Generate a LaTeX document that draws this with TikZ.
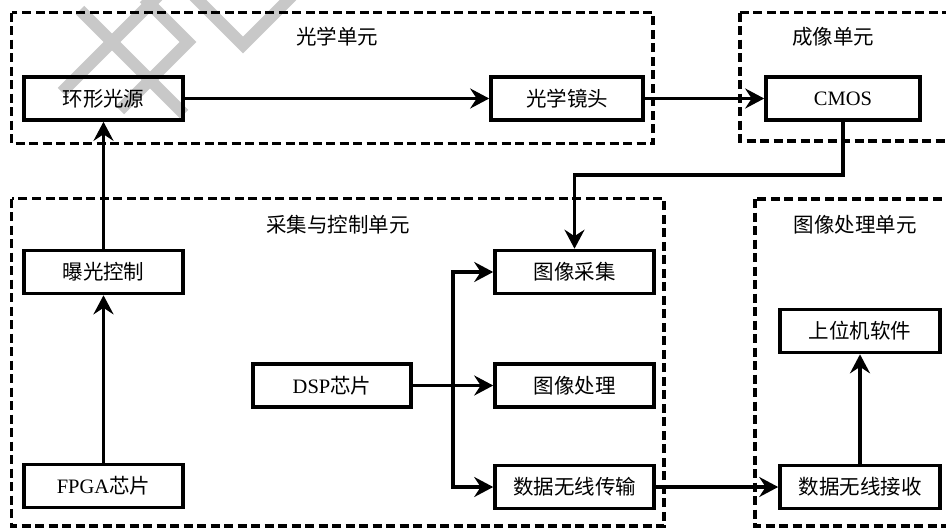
\documentclass[tikz,border=0pt]{standalone}
\usepackage{fontspec}
\setmainfont{Liberation Serif}
\newfontfamily\cjk{Noto Sans CJK SC}
\usetikzlibrary{arrows.meta}
\definecolor{wmgray}{RGB}{200,200,200}
\tikzset{
  blk/.style={draw=black, line width=3.6pt, minimum height=43pt, inner sep=0pt,
    font=\fontsize{20.5}{24}\selectfont},
  unit/.style={draw=black, line width=3.2pt, dash pattern=on 9pt off 4.5pt},
  unitlabel/.style={font=\cjk\fontsize{20.5}{24}\selectfont},
  conn/.style={line width=3.3pt, -{Stealth[length=19pt,width=20pt,inset=6.5pt]}},
  plain/.style={line width=3.3pt},
  wm/.style={wmgray, line width=12pt}
}
\begin{document}
\begin{tikzpicture}[x=1pt,y=-1pt]
\useasboundingbox (0,0) rectangle (946,528);
\clip (0,0) rectangle (946,528);
\fill[white] (0,0) rectangle (946,528);
% watermark strokes
\draw[wm] (62,92) -- (158,-4);
\draw[wm] (80,10) -- (184,114);
\draw[wm] (120,110) -- (188,42) -- (144,-2);
\draw[wm] (194,-4) -- (243,45) -- (292,-4);
% unit frames
\draw[unit] (11.5,12.5) rectangle (653,143.5);
\draw[unit] (740,12.5) rectangle (960,141);
\draw[unit] (11.5,198.5) rectangle (664,526);
\draw[unit] (755,199) rectangle (960,526);
\node[unitlabel] (lblopt) at (337,37) {光学单元};
\node[unitlabel] (lblimg) at (833,37) {成像单元};
\node[unitlabel] (lblacq) at (338,225) {采集与控制单元};
\node[unitlabel] (lblproc) at (855,225) {图像处理单元};
% blocks
\node[blk, minimum width=159pt] (ring) at (103.5,98.5) {\cjk 环形光源};
\node[blk, minimum width=152pt] (lens) at (567,98.5) {\cjk 光学镜头};
\node[blk, minimum width=154pt] (cmos) at (843,98.5) {CMOS};
\node[blk, minimum width=159pt] (expo) at (103.5,272) {\cjk 曝光控制};
\node[blk, minimum width=159pt] (fpga) at (103.5,486) {FPGA{\cjk 芯片}};
\node[blk, minimum width=158pt] (dsp) at (332,385.5) {DSP{\cjk 芯片}};
\node[blk, minimum width=159pt] (acq) at (574.5,272) {\cjk 图像采集};
\node[blk, minimum width=159pt] (proc) at (574.5,385.5) {\cjk 图像处理};
\node[blk, minimum width=159pt] (tx) at (574.5,487) {\cjk 数据无线传输};
\node[blk, minimum width=160pt] (pc) at (860,331) {\cjk 上位机软件};
\node[blk, minimum width=160pt] (rx) at (860,487) {\cjk 数据无线接收};
% connectors
\coordinate (j) at (453,385.5);
\coordinate (bend) at (843,175);
\draw[conn] (ring.east) -- (lens.west);
\draw[conn] (lens.east) -- (cmos.west);
\draw[conn] (cmos.south) -- (bend) -| (acq.north);
\draw[plain] (dsp.east) -- (j);
\draw[conn] (j) |- (acq.west);
\draw[conn] (j) -- (proc.west);
\draw[conn] (j) |- (tx.west);
\draw[conn] (fpga.north) -- (expo.south);
\draw[conn] (expo.north) -- (ring.south);
\draw[conn] (tx.east) -- (rx.west);
\draw[conn] (rx.north) -- (pc.south);
\end{tikzpicture}
\end{document}
